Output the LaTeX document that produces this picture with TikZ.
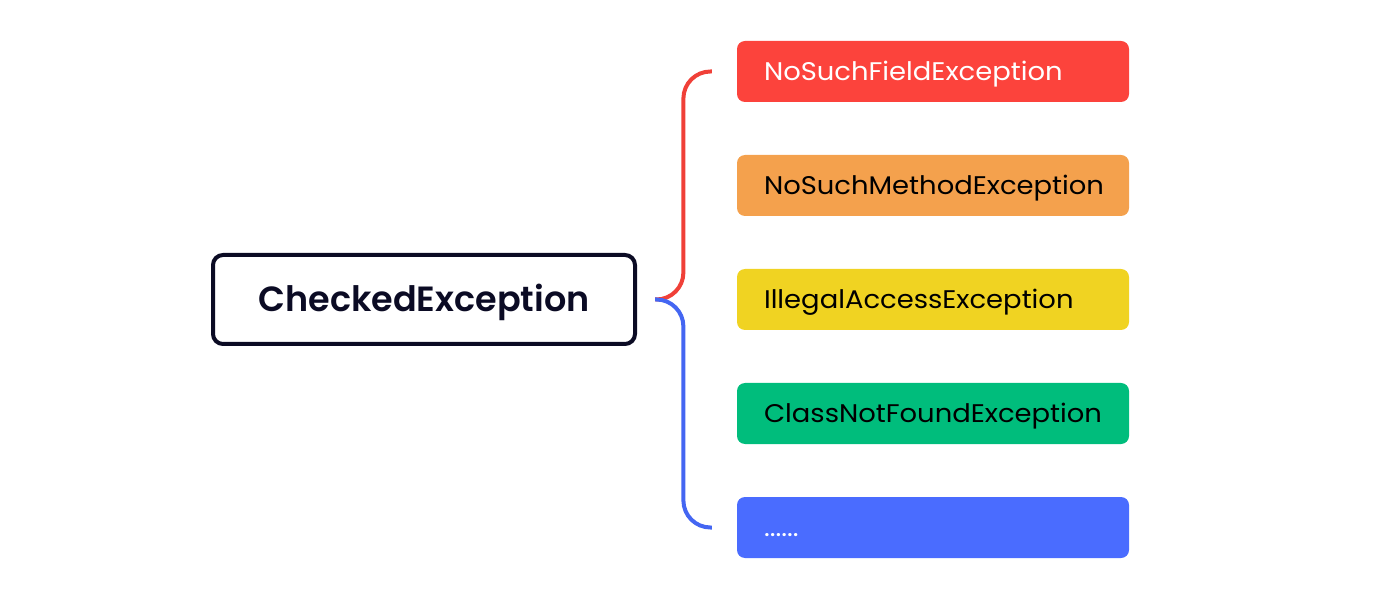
\documentclass[tikz,border=0pt]{standalone}
\usepackage{fontspec}
\setmainfont{Poppins}
\newfontfamily\leaffont{Poppins}[FakeStretch=1.075]
\newfontfamily\rootfont{Poppins SemiBold}
\usetikzlibrary{calc}
\definecolor{cRed}{HTML}{FC433C}
\definecolor{cOrange}{HTML}{F4A14D}
\definecolor{cYellow}{HTML}{F0D322}
\definecolor{cGreen}{HTML}{00BD7C}
\definecolor{cBlue}{HTML}{4A6CFF}
\definecolor{cNavy}{HTML}{0B0B24}
\definecolor{lRed}{HTML}{F04038}
\definecolor{lBlue}{HTML}{4466F2}
\tikzset{
  leaf/.style={rounded corners=8pt, inner xsep=27pt, inner ysep=0pt,
    text width=338pt, minimum height=61pt, align=left,
    font=\leaffont\fontsize{25.5}{30}\selectfont, text height=17.8pt, text depth=0pt},
  rootbox/.style={draw=cNavy, line width=4pt, rounded corners=10pt, fill=white,
    minimum width=422pt, minimum height=89pt, inner sep=0pt,
    font=\rootfont\fontsize{35}{40}\selectfont, text=cNavy, text height=24.8pt, text depth=0pt},
  brace/.style={line width=4pt, rounded corners=27pt}
}
\begin{document}
\begin{tikzpicture}[x=1pt,y=-1pt]
\useasboundingbox (0,0) rectangle (1400,593);
\node[rootbox] (root) at (424,299.5) {CheckedException};
\node[leaf, fill=cRed, text=white] (n1) at (933,71.5) {NoSuchFieldException};
\node[leaf, fill=cOrange, text=black] (n2) at (933,185.5) {NoSuchMethodException};
\node[leaf, fill=cYellow, text=black] (n3) at (933,299.5) {IllegalAccessException};
\node[leaf, fill=cGreen, text=black] (n4) at (933,413.5) {ClassNotFoundException};
\node[leaf, fill=cBlue, text=white] (n5) at (933,527.5) {......};
\coordinate (j) at ($(root.east)+(18,0)$);
\coordinate (e1) at ($(n1.west)+(-25,0)$);
\coordinate (e5) at ($(n5.west)+(-25,0)$);
\draw[brace, draw=lRed] (j) -| ($(j)!0.5!(e1)$) |- (e1);
\draw[brace, draw=lBlue] (j) -| ($(j)!0.5!(e5)$) |- (e5);
\end{tikzpicture}
\end{document}
